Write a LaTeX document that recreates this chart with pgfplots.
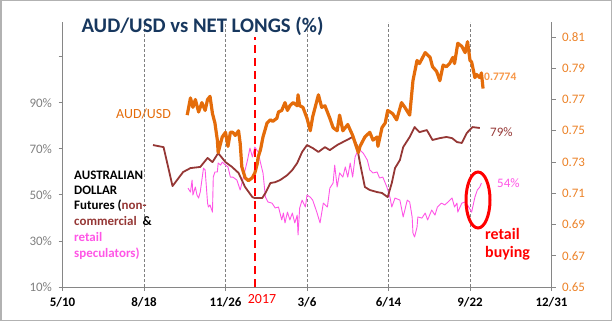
\documentclass[border=0pt]{standalone}
\usepackage{pgfplots}
\pgfplotsset{compat=1.18}
\usepackage{fontspec}
\setmainfont{Carlito}
\definecolor{audor}{RGB}{228,108,10}
\definecolor{audlab}{RGB}{236,130,40}
\definecolor{audlight}{RGB}{247,150,70}
\definecolor{maroonc}{RGB}{149,55,53}
\definecolor{pinkc}{RGB}{255,85,230}
\definecolor{axgray}{RGB}{134,134,134}
\definecolor{labgray}{RGB}{128,128,128}
\definecolor{titleblue}{RGB}{23,55,94}
\begin{document}
\begin{tikzpicture}[x=1bp,y=1bp]
\path[use as bounding box] (0,0) rectangle (612,321);
\draw[gray!60, line width=1.5bp] (0.75,0.75) rectangle (611.25,320.25);
% left axis: net longs (%)
\begin{axis}[
  at={(62.5bp,34bp)}, anchor=south west, scale only axis,
  width=489bp, height=265bp,
  xmin=0, xmax=600, ymin=10, ymax=125,
  axis x line*=bottom, axis y line*=left,
  axis line style={draw=axgray, line width=0.8bp},
  xtick={0,100,200,300,400,500,600},
  xticklabels={5/10,8/18,11/26,3/6,6/14,9/22,12/31},
  extra x ticks={100,200,300,400,500}, extra x tick labels={},
  extra x tick style={grid=major, major tick length=0pt},
  major grid style={draw=labgray, dash pattern=on 3bp off 2bp, line width=0.7bp},
  ytick={10,30,50,70,90,110},
  yticklabels={10\%,30\%,50\%,70\%,90\%,{}},
  tick align=outside, major tick length=4bp,
  tick style={draw=axgray, line width=0.8bp},
  x tick label style={font=\bfseries\fontsize{13}{13}\selectfont, text=black, yshift=-3bp},
  y tick label style={font=\fontsize{13}{13}\selectfont, text=labgray, xshift=-3bp},
  clip=false,
]
\addplot[pinkc, line width=0.9bp, line join=round] coordinates {
(154,52.9)(157,51.2)(159,56.4)(160,49.9)(163,53.4)(165,49.9)(167,48.6)(169,51.2)(171,56.4)(173,61.6)(175,60.8)(178,46.4)(179,44.7)(181,45.6)(184,42.5)(185,57.7)(187,59.9)(190,59.9)(191,63.8)(194,62.9)(196,64.2)(200,62.9)(203,62.1)(206,57.7)(209,57.7)(214,56.4)(218,52.1)(222,57.7)(227,65.1)(230,70.3)(233,66.4)(236,70.7)(240,68.6)(243,63.8)(246,59.5)(249,49.0)(252,46.9)(257,46.4)(261,44.3)(265,44.7)(269,39.1)(271,42.1)(273,37.8)(276,42.5)(279,39.1)(282,42.1)(285,37.8)(288,41.2)(289,32.6)(291,44.3)(294,47.7)(298,44.7)(300,49.9)(304,49.0)(307,47.7)(312,42.5)(316,37.8)(320,46.4)(325,44.7)(328,52.9)(332,55.1)(334,62.9)(337,53.4)(340,59.5)(344,57.7)(347,62.1)(350,57.7)(353,63.8)(356,57.7)(359,66.4)(361,68.1)(365,69.4)(369,68.1)(374,65.1)(377,60.8)(381,59.5)(386,59.9)(389,57.3)(393,57.7)(398,53.4)(402,48.6)(404,44.7)(408,48.6)(414,47.7)(418,40.4)(423,47.7)(426,46.9)(429,40.4)(430,33.4)(432,31.7)(435,36.0)(436,40.4)(441,39.9)(445,42.1)(448,39.1)(453,43.4)(457,41.2)(460,44.7)(465,46.4)(469,45.6)(473,46.9)(478,48.6)(481,44.7)(484,46.4)(485,42.5)(490,46.4)(494,46.9)(497,45.6)(502,42.5)(506,49.0)(509,52.1)(512,53.4)(514,55.1)
};
\addplot[maroonc, line width=1.8bp, line join=round] coordinates {
(111,71.6)(124,70.7)(135,53.8)(148,59.9)(157,61.6)(169,62.1)(178,66.0)(184,64.2)(191,68.1)(200,64.2)(208,62.1)(216,59.5)(224,53.4)(233,49.0)(236,48.6)(245,48.6)(249,50.8)(255,55.1)(261,55.5)(267,56.4)(276,58.6)(282,60.8)(288,63.8)(294,68.6)(300,71.6)(307,70.3)(314,68.6)(322,70.7)(328,69.4)(337,71.6)(344,72.9)(356,75.1)(361,71.6)(365,63.8)(371,53.4)(377,52.1)(386,51.2)(392,50.8)(399,49.0)(404,55.1)(408,61.6)(414,65.1)(418,70.7)(426,75.1)(432,79.4)(438,77.2)(447,78.1)(454,73.8)(463,74.6)(471,75.1)(478,74.6)(484,72.9)(490,72.5)(496,76.8)(503,79.4)(512,79.0)
};
\end{axis}
% right axis: AUD/USD
\begin{axis}[
  at={(62.5bp,34bp)}, anchor=south west, scale only axis,
  width=489bp, height=265bp,
  xmin=0, xmax=600, ymin=0.65, ymax=0.8196,
  axis x line=none, axis y line*=right,
  axis line style={draw=axgray, line width=0.8bp},
  ytick={0.65,0.67,0.69,0.71,0.73,0.75,0.77,0.79,0.81},
  yticklabels={0.65,0.67,0.69,0.71,0.73,0.75,0.77,0.79,0.81},
  tick align=outside, major tick length=4bp,
  tick style={draw=axgray, line width=0.8bp},
  y tick label style={font=\fontsize{13}{13}\selectfont, text=audlab, xshift=3bp},
  clip=false,
]
\addplot[audor, line width=3.2bp, line join=round] coordinates {
(153,0.760)(157,0.771)(160,0.765)(163,0.770)(167,0.762)(171,0.768)(175,0.763)(178,0.770)(181,0.772)(184,0.761)(187,0.755)(190,0.744)(191,0.736)(196,0.746)(200,0.749)(203,0.740)(206,0.749)(209,0.749)(212,0.747)(216,0.750)(218,0.742)(220,0.727)(224,0.720)(228,0.718)(233,0.720)(236,0.723)(239,0.729)(240,0.733)(243,0.738)(246,0.746)(251,0.755)(255,0.757)(258,0.756)(263,0.758)(265,0.762)(269,0.763)(273,0.768)(276,0.763)(279,0.766)(283,0.768)(288,0.766)(289,0.773)(291,0.766)(295,0.765)(300,0.758)(304,0.750)(307,0.759)(314,0.773)(318,0.765)(322,0.766)(328,0.758)(332,0.752)(337,0.750)(340,0.760)(344,0.750)(350,0.754)(356,0.747)(363,0.736)(365,0.740)(371,0.746)(377,0.749)(381,0.744)(386,0.746)(387,0.740)(392,0.752)(396,0.755)(399,0.763)(405,0.761)(410,0.757)(416,0.768)(420,0.765)(426,0.760)(430,0.782)(435,0.795)(438,0.793)(445,0.800)(451,0.797)(454,0.791)(459,0.788)(463,0.782)(467,0.792)(471,0.791)(475,0.793)(479,0.797)(481,0.793)(485,0.806)(490,0.804)(494,0.800)(497,0.807)(500,0.795)(502,0.794)(506,0.784)(508,0.786)(512,0.784)(514,0.787)(516,0.777)
};
\addplot[red, line width=2.5bp, dash pattern=on 8bp off 5bp] coordinates {(236,0.65) (236,0.81)};
\end{axis}
% title and annotations
\node[anchor=base, text=titleblue, font=\bfseries\fontsize{20.8}{20.8}\selectfont] at (202.5,289) {AUD/USD vs NET LONGS (\%)};
\node[anchor=base west, inner sep=0, text=audor, font=\fontsize{14}{14}\selectfont] at (116,203) {AUD/USD};
\node[anchor=base west, inner sep=0, text=audlight, font=\bfseries\fontsize{11.5}{11.5}\selectfont] at (484,241) {0.7774};
\node[anchor=base west, inner sep=0, text=maroonc, font=\fontsize{13}{13}\selectfont] at (490,185) {79\%};
\node[anchor=base west, inner sep=0, text=pinkc, font=\fontsize{13}{13}\selectfont] at (497,134) {54\%};
\draw[red, line width=3bp] (478,121) ellipse [x radius=12, y radius=28];
\node[anchor=base west, inner sep=0, text=red, font=\bfseries\fontsize{16}{16}\selectfont] at (485,82) {retail};
\node[anchor=base west, inner sep=0, text=red, font=\bfseries\fontsize{16}{16}\selectfont] at (485,64) {buying};
\node[anchor=base, inner sep=0, text=red, font=\fontsize{14}{14}\selectfont] at (262,18) {2017};
\begin{scope}[every node/.style={anchor=base west, inner sep=0, font=\bfseries\fontsize{13}{13}\selectfont}]
\node at (74,142) {AUSTRALIAN};
\node at (74,127) {DOLLAR};
\node at (74,112) {Futures (\textcolor{maroonc}{non-}};
\node at (74,96) {\textcolor{maroonc}{commercial} \ \&};
\node[text=pinkc] at (74,79.5) {retail};
\node[text=pinkc] at (74,64) {speculators)};
\end{scope}
\end{tikzpicture}
\end{document}
